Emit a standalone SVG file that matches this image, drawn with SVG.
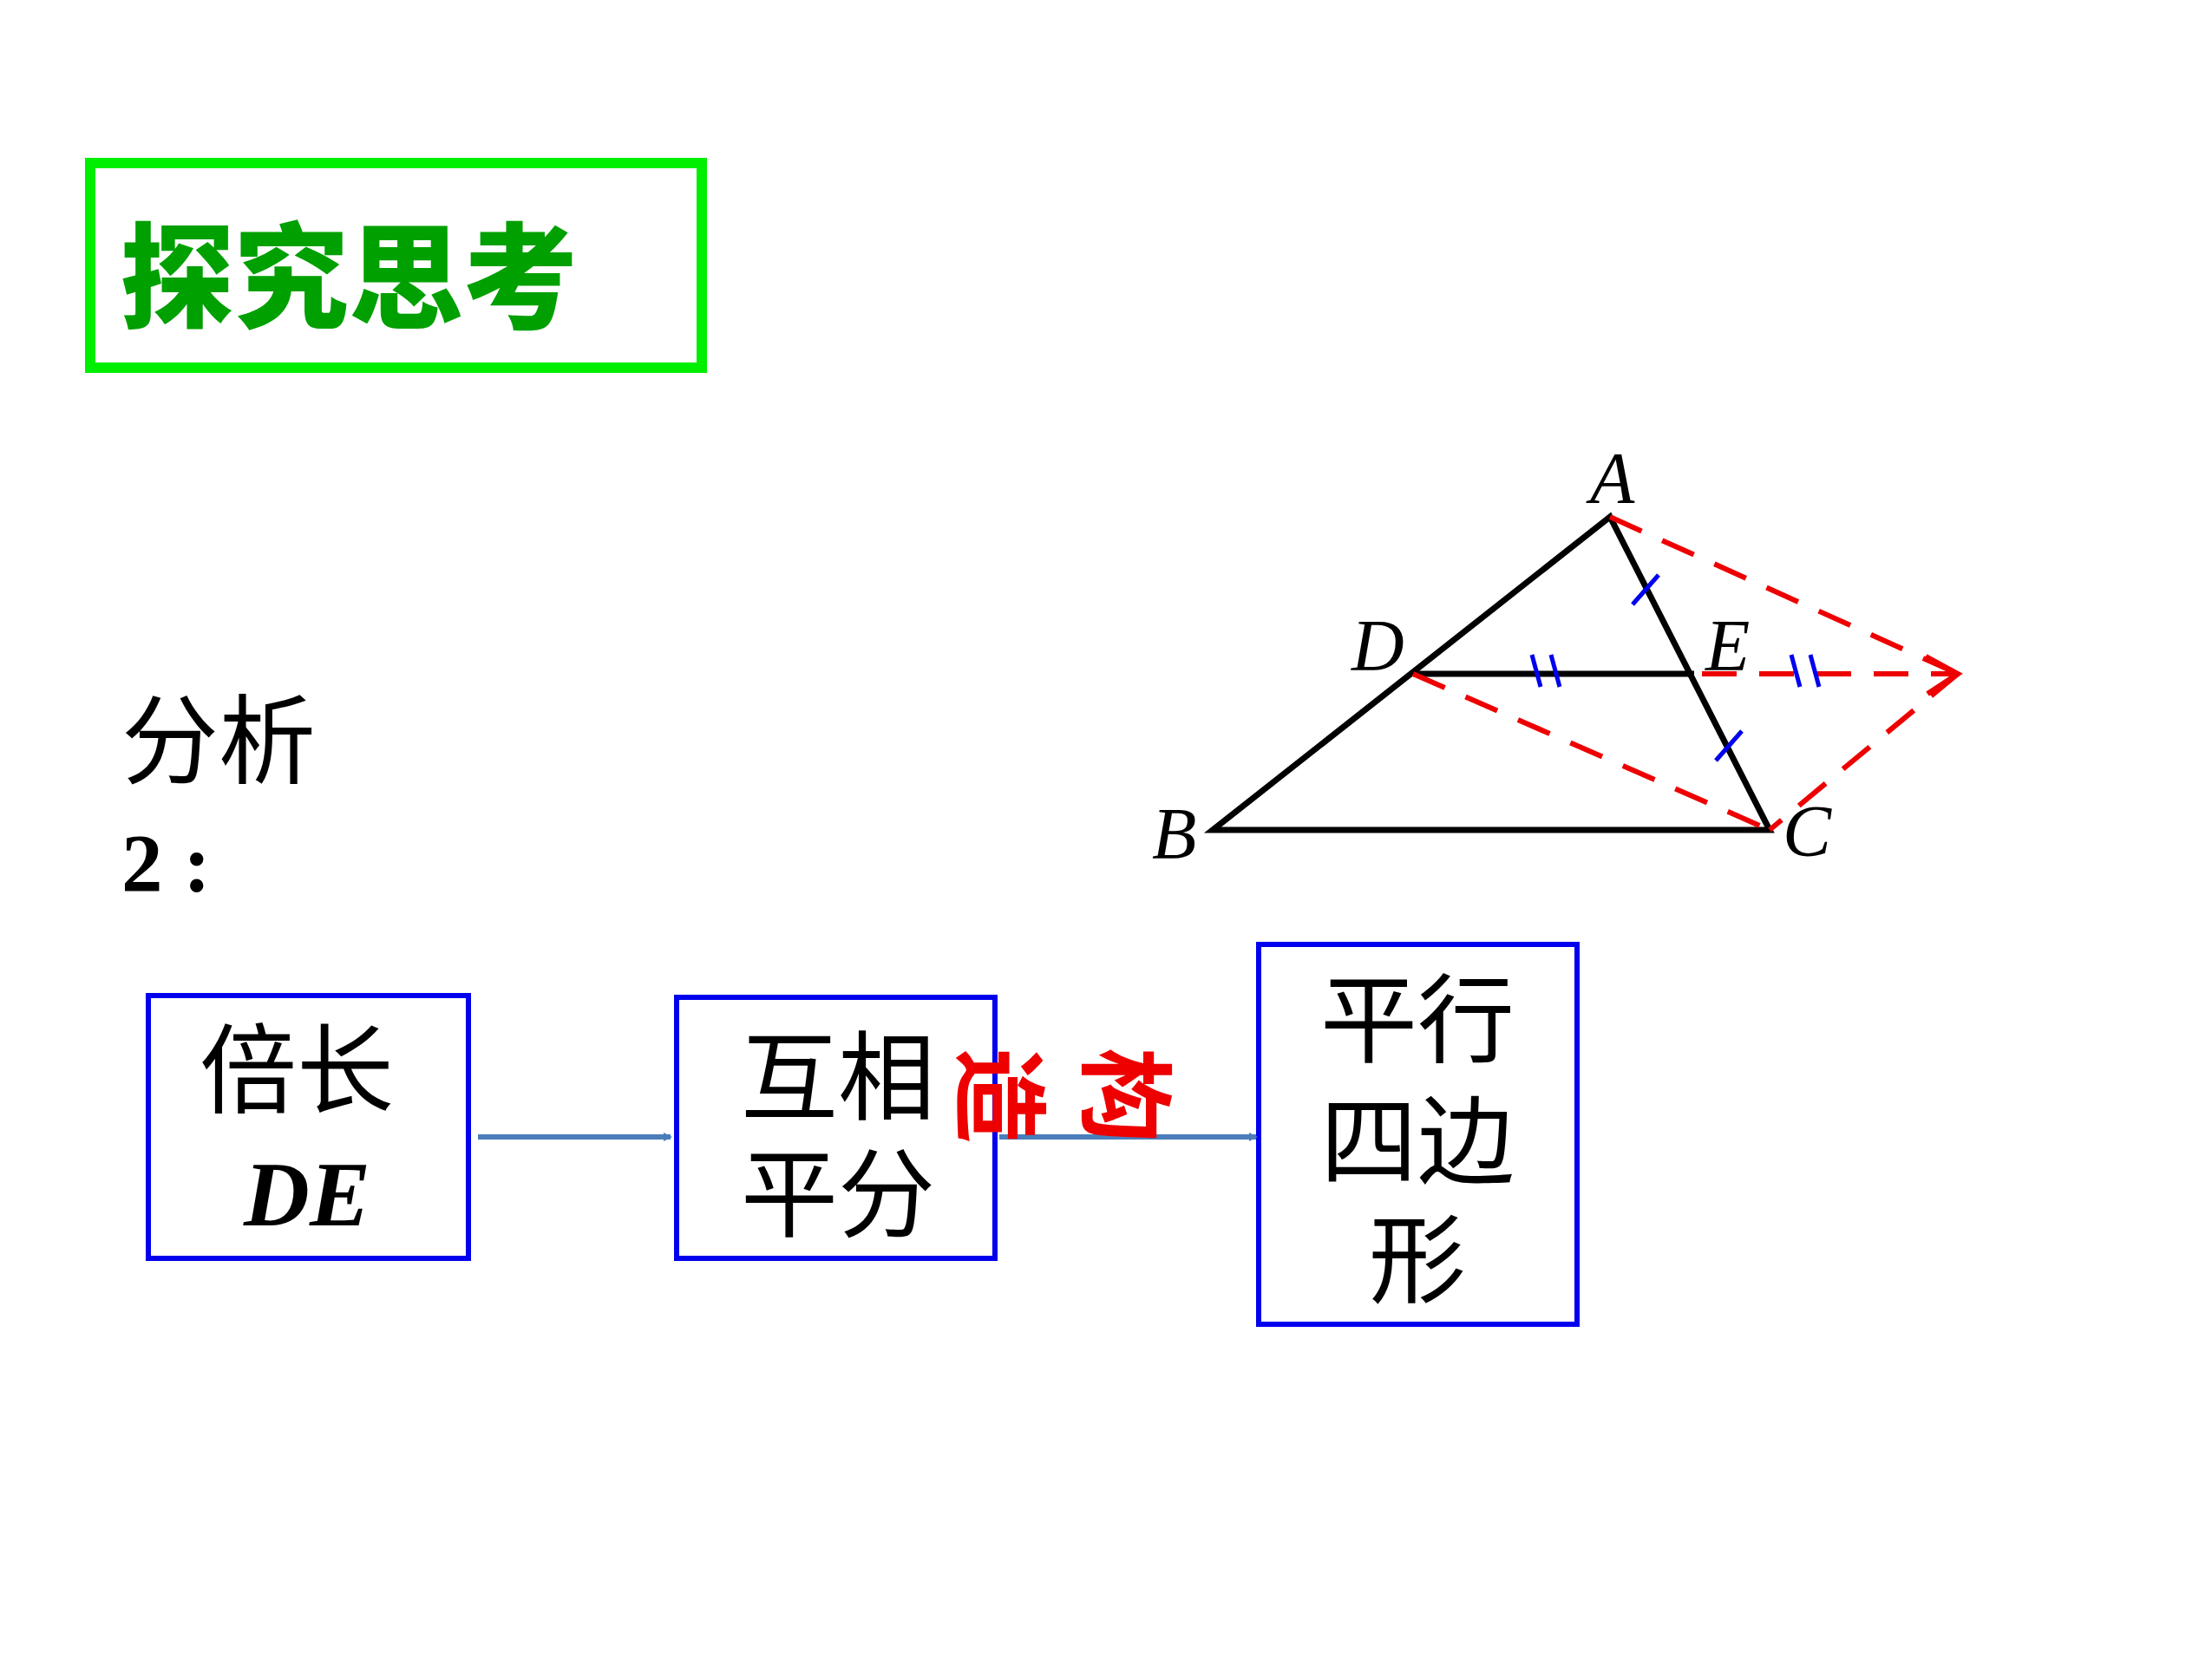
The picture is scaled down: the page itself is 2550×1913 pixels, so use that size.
<svg xmlns="http://www.w3.org/2000/svg" width="2550" height="1913" viewBox="0 0 2550 1913">
<defs>
<style>
.cjk{font-family:"Liberation Serif","Noto Sans CJK SC",serif;font-size:112px;fill:#000}
.lbl{font-family:"Liberation Serif",serif;font-style:italic;font-size:84px;fill:#000}
.box{fill:none;stroke:#0000ee;stroke-width:6}
.blk{stroke:#000;stroke-width:7;fill:none}
.red{stroke:#ee0000;stroke-width:6;fill:none;stroke-dasharray:40 26}
.tick{stroke:#0000ee;stroke-width:5}
.flow{stroke:#4a7ebb;stroke-width:6;fill:none}
</style>
<marker id="ah" markerWidth="10" markerHeight="10" refX="8" refY="5" orient="auto" markerUnits="userSpaceOnUse" viewBox="0 0 10 10"><path d="M0,0 L10,5 L0,10 z" fill="#4a7ebb"/></marker>
</defs>
<rect width="2550" height="1913" fill="#fff"/>
<g id="title">
<rect x="104" y="188" width="705" height="236" fill="none" stroke="#00ee00" stroke-width="12"/>
<text x="138" y="368" font-family="Noto Sans CJK SC,sans-serif" font-weight="900" font-size="132" fill="#00a000">探究思考</text>
</g>
<g id="analysis">
<text x="140" y="895" class="cjk" font-size="107">分析</text>
<text x="140" y="1028" font-family="Liberation Serif,serif" font-weight="bold" font-size="95">2 :</text>
</g>
<g id="figure">
<path class="blk" d="M1856,596 L1398,957 L2040,957 Z"/>
<line class="blk" x1="1629" y1="777" x2="1953" y2="777"/>
<path class="red" d="M1856,596 L2257,777"/>
<path class="red" d="M2257,777 L2040,957"/>
<path class="red" d="M1629,777 L2040,957"/>
<path class="red" d="M1962,777 L2255,777"/>
<path d="M2220,757 L2257,777 L2222,800" stroke="#ee0000" stroke-width="6" fill="none"/>
<line class="tick" x1="1882" y1="697" x2="1912" y2="663"/>
<line class="tick" x1="1978" y1="877" x2="2008" y2="843"/>
<line class="tick" x1="1766" y1="755" x2="1776" y2="792"/>
<line class="tick" x1="1788" y1="755" x2="1798" y2="792"/>
<line class="tick" x1="2065" y1="755" x2="2075" y2="792"/>
<line class="tick" x1="2087" y1="755" x2="2097" y2="792"/>
<text class="lbl" x="1833" y="580">A</text>
<text class="lbl" x="1558" y="773">D</text>
<text class="lbl" x="1966" y="773">E</text>
<text class="lbl" x="1328" y="990">B</text>
<text class="lbl" x="2055" y="987">C</text>
</g>
<g id="node1">
<rect class="box" x="171" y="1148" width="369" height="303"/>
<text class="cjk" x="342" y="1275" text-anchor="middle">倍长</text>
<text x="354" y="1413" text-anchor="middle" font-family="Liberation Serif,serif" font-style="italic" font-weight="bold" font-size="105">DE</text>
</g>
<g id="node2">
<rect class="box" x="780" y="1150" width="367" height="301"/>
<text class="cjk" x="966" y="1283" text-anchor="middle">互相</text>
<text class="cjk" x="966" y="1418" text-anchor="middle">平分</text>
</g>
<g id="node3">
<rect class="box" x="1451" y="1089" width="367" height="438"/>
<text class="cjk" x="1634" y="1217" text-anchor="middle">平行</text>
<text class="cjk" x="1634" y="1357" text-anchor="middle">四边</text>
<text class="cjk" x="1634" y="1494" text-anchor="middle">形</text>
</g>
<g id="connectors">
<line class="flow" x1="551" y1="1311" x2="773" y2="1311" marker-end="url(#ah)"/>
<line class="flow" x1="1152" y1="1311" x2="1448" y2="1311" marker-end="url(#ah)"/>
</g>
<g id="label" font-family="Noto Sans CJK SC,sans-serif" font-weight="bold" font-size="110" fill="#ee0000" text-anchor="middle">
<text transform="translate(1295,1263) rotate(90)" y="38">构</text>
<text transform="translate(1150,1263) rotate(90)" y="38">造</text>
</g>
</svg>
